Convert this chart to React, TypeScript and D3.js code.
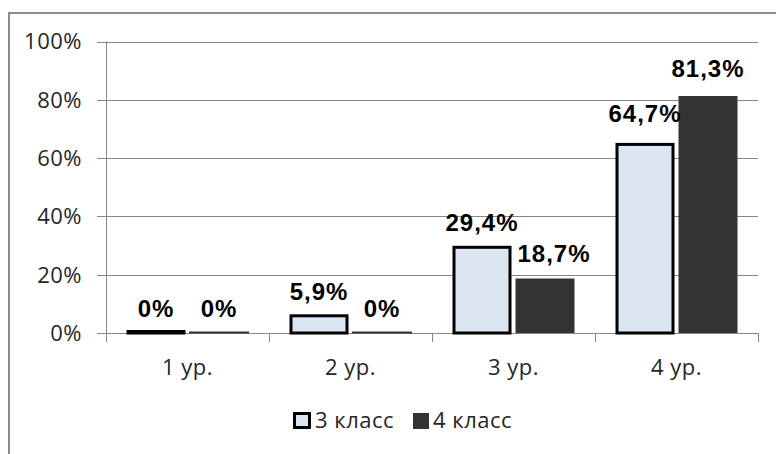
import React from "react";
import * as d3 from "d3";

const categories = ["1 ур.", "2 ур.", "3 ур.", "4 ур."];
const seriesNames = ["3 класс", "4 класс"];
const class3 = [0, 5.9, 29.4, 64.7];
const class4 = [0, 0, 18.7, 81.3];
const yTicks = [0, 20, 40, 60, 80, 100];

// label nudges (style only): [series][category] -> [dx, dy]
const labelNudge: Record<string, [number, number]> = {
  "1-2": [9, 0],
  "0-3": [0, -6],
  "1-3": [0, -3],
};

const W = 776;
const H = 454;
const plot = { left: 106, right: 758, top: 41.5, bottom: 333 };

const fmt = (v: number) => (v === 0 ? "0%" : d3.format(".1f")(v).replace(".", ",") + "%");

export default function App() {
  const x = d3.scaleBand<string>().domain(categories).range([plot.left, plot.right]).padding(0);
  const xs = d3
    .scaleBand<string>()
    .domain(seriesNames)
    .range([0, x.bandwidth()])
    .paddingInner(4 / 63)
    .paddingOuter(20.5 / 63);
  const y = d3.scaleLinear().domain([0, 100]).range([plot.bottom, plot.top]);

  const series = [class3, class4];
  const axisFont = "'Open Sans', 'Noto Sans', sans-serif";
  const labelFont = "'Liberation Sans', Arial, sans-serif";
  const axisSize = 22;
  const axisSpacing = 0.5;

  return (
    <svg
      width={W}
      height={H}
      style={{ position: "absolute", left: 0, top: 0, background: "#fff" }}
    >
      <rect x={0} y={0} width={W} height={H} fill="#fff" />
      {/* frame */}
      <line x1={9} y1={12} x2={9} y2={H} stroke="#8c8c8c" strokeWidth={2} />
      <line x1={8} y1={13} x2={W} y2={13} stroke="#8c8c8c" strokeWidth={2} />

      {/* gridlines & y ticks */}
      {yTicks.map((t) => (
        <g key={t}>
          <line
            x1={plot.left - 9}
            x2={plot.right}
            y1={Math.round(y(t)) + 0.5}
            y2={Math.round(y(t)) + 0.5}
            stroke="#868686"
            strokeWidth={1}
          />
          <text
            x={82}
            y={y(t)}
            dy="0.36em"
            textAnchor="end"
            fontFamily={axisFont}
            fontSize={axisSize}
            letterSpacing={axisSpacing}
            fill="#262626"
          >
            {t}%
          </text>
        </g>
      ))}
      {/* y axis line */}
      <line
        x1={plot.left + 0.5}
        x2={plot.left + 0.5}
        y1={plot.top}
        y2={plot.bottom}
        stroke="#868686"
      />
      {/* x ticks */}
      {[...categories.map((c) => x(c)!), plot.right].map((px, i) => (
        <line
          key={i}
          x1={Math.round(px) + 0.5}
          x2={Math.round(px) + 0.5}
          y1={plot.bottom}
          y2={plot.bottom + 9}
          stroke="#868686"
        />
      ))}
      {/* category labels */}
      {categories.map((c) => (
        <text
          key={c}
          x={x(c)! + x.bandwidth() / 2}
          y={375}
          textAnchor="middle"
          fontFamily={axisFont}
          fontSize={axisSize}
          letterSpacing={axisSpacing}
          fill="#262626"
        >
          {c}
        </text>
      ))}

      {/* bars */}
      {series.map((vals, si) =>
        vals.map((v, ci) => {
          const bx = x(categories[ci])! + xs(seriesNames[si])!;
          const bw = xs.bandwidth();
          const top = y(v);
          const h = Math.max(plot.bottom - top, si === 0 ? 1.5 : 1);
          return si === 0 ? (
            <rect
              key={`${si}-${ci}`}
              x={bx + 1.5}
              y={plot.bottom - h}
              width={bw - 3}
              height={h}
              fill="#dce6f2"
              stroke="#000"
              strokeWidth={3}
            />
          ) : (
            <rect
              key={`${si}-${ci}`}
              x={bx}
              y={plot.bottom - h}
              width={bw}
              height={h}
              fill="#333333"
              stroke={v === 0 ? "#333" : "none"}
              strokeWidth={1}
            />
          );
        })
      )}

      {/* value labels */}
      {series.map((vals, si) =>
        vals.map((v, ci) => {
          const bx = x(categories[ci])! + xs(seriesNames[si])! + xs.bandwidth() / 2;
          const [dx, dy] = labelNudge[`${si}-${ci}`] || [0, 0];
          return (
            <text
              key={`l-${si}-${ci}`}
              x={bx + dx}
              y={y(v) - 16 + dy}
              textAnchor="middle"
              fontFamily={labelFont}
              fontWeight="bold"
              fontSize={24}
              letterSpacing={1}
              fill="#000"
            >
              {fmt(v)}
            </text>
          );
        })
      )}

      {/* legend */}
      <rect x={294.5} y={413.5} width={15} height={14} fill="#dce6f2" stroke="#000" strokeWidth={3} />
      <text x={315} y={428} fontFamily={axisFont} fontSize={axisSize} letterSpacing={axisSpacing} fill="#262626">
        {seriesNames[0]}
      </text>
      <rect x={413} y={413} width={16} height={16} fill="#333" />
      <text x={433} y={428} fontFamily={axisFont} fontSize={axisSize} letterSpacing={axisSpacing} fill="#262626">
        {seriesNames[1]}
      </text>
    </svg>
  );
}
